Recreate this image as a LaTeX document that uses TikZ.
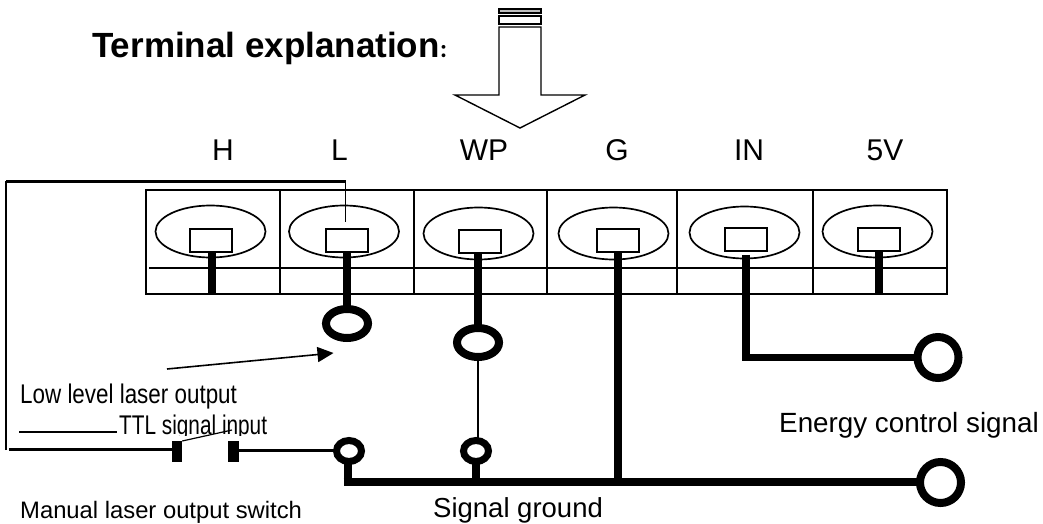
\documentclass[tikz,border=0pt]{standalone}
\usepackage{fontspec}
\setmainfont{Liberation Sans}
\newfontfamily\cjkfont{Noto Sans CJK SC}
\usetikzlibrary{shapes.geometric,arrows.meta,calc}
\tikzset{
  x=1pt,y=-1pt,
  cell/.style={draw,line width=1.7pt,ellipse,minimum width=110pt,minimum height=52pt,inner sep=0pt,outer sep=0pt},
  pad/.style={draw,line width=2pt,rectangle,minimum width=42pt,minimum height=22.5pt,inner sep=0pt,outer sep=0pt},
  bigring/.style={draw,line width=8pt,circle,minimum size=41pt,inner sep=0pt,outer sep=0pt},
  midring/.style={draw,line width=8pt,ellipse,minimum width=42pt,minimum height=29pt,inner sep=0pt,outer sep=0pt},
  smallring/.style={draw,line width=7pt,ellipse,minimum width=25pt,minimum height=21pt,inner sep=0pt,outer sep=0pt},
  post/.style={draw=none,fill=black,rectangle,minimum width=10.5pt,minimum height=21pt,inner sep=0pt,outer sep=0pt},
  thick wire/.style={line width=8pt},
  wire/.style={line width=3pt},
  thin wire/.style={line width=1.6pt},
  divider/.style={line width=2pt},
  term/.style={font=\fontsize{30}{34}\selectfont,inner sep=0pt,anchor=base},
  lbl/.style={inner sep=0pt,anchor=base west},
}
\begin{document}
\begin{tikzpicture}
\useasboundingbox (0,0) rectangle (1043,524);
\fill[white] (0,0) rectangle (1043,524);

% terminal block
\node[draw,line width=1.7pt,rectangle,anchor=north west,minimum width=801pt,minimum height=104pt,inner sep=0pt,outer sep=0pt] (block) at (146,190) {};
\coordinate (d1) at (280,190); \coordinate (d2) at (413.5,190); \coordinate (d3) at (547,190);
\coordinate (d4) at (677,190); \coordinate (d5) at (813,190);
\foreach \d in {d1,d2,d3,d4,d5} \draw[divider] (\d) -- (\d |- block.south);
\coordinate (barL) at (149,268);
\draw[divider] (barL) -- (barL -| block.east);

\node[cell] (eH)  at (210.5,231.5) {};
\node[cell] (eL)  at (344,231.5) {};
\node[cell] (eWP) at (478.5,233.5) {};
\node[cell] (eG)  at (613.5,233.5) {};
\node[cell] (eIN) at (744.5,232.5) {};
\node[cell] (e5V) at (877.5,231.5) {};
\node[pad] (pH)  at (210.5,240.5) {};
\node[pad] (pL)  at (346.5,240.5) {};
\node[pad] (pWP) at (480,241.5) {};
\node[pad] (pG)  at (618,240.5) {};
\node[pad] (pIN) at (745.5,239.5) {};
\node[pad] (p5V) at (878.5,239.5) {};

% rings
\node[midring] (rL) at (347,323.5) {};
\node[midring] (rWP) at (478,342.5) {};
\node[smallring] (rS1) at (349,451) {};
\node[smallring] (rS2) at (476,451) {};
\node[bigring] (rE) at (938,357.5) {};
\node[bigring] (rG) at (940.5,482.5) {};

% stems
\draw[thick wire] ([xshift=1.5pt]pH.south) -- ([xshift=1.5pt]pH.south |- block.south);
\draw[thick wire] (pL.south -| rL.north) -- (rL.north);
\draw[thick wire] (pWP.south -| rWP.north) -- (rWP.north);
\draw[thick wire] (p5V.south) -- (p5V.south |- block.south);
\coordinate (busL) at (347.5,482);
\draw[thick wire] (pG.south) -- (pG.south |- busL);
\draw[thick wire] (busL |- rS1.south) -- (busL);
\draw[thick wire] ([xshift=-4pt]busL) -- (busL -| rG.west);
\draw[thick wire] (rS2.south) -- (rS2.south |- busL);
\draw[line width=8pt] ([shift={(.5pt,-4pt)}]pIN.south) -- ([xshift=.5pt,yshift=-3pt]pIN.south |- rE.west);
\draw[line width=7pt] ([xshift=-3.5pt]pIN.south |- rE.west) -- (rE.west);

% WP to small ring
\draw[thin wire] (rWP.south) -- (rWP.south |- rS2.north);

% switch
\node[post] (s1) at (177,451.5) {};
\node[post] (s2) at (233.5,451.5) {};
\draw[wire] ([yshift=1pt]rS1.west -| s2.east) -- ([yshift=1pt]rS1.west);
\coordinate (swL) at (9,449);
\draw[wire] (swL) -- (swL -| s1.west);
\draw[line width=1.2pt] (s1.north east) -- (232,430);

% long wire to L
\coordinate (cornerTL) at (6,181);
\coordinate (cornerBL) at (6,450);
\coordinate (cornerTR) at (345.5,181);
\coordinate (pinL) at (345.5,222);
\draw[thin wire] (cornerBL) -- (cornerTL);
\draw[wire] (cornerTL) -- (cornerTR);
\draw[thin wire] (cornerTR) -- (pinL);

% pointer arrow
\coordinate (ptrA) at (167,369);
\coordinate (ptrB) at (333.5,353);
\draw[line width=1.6pt,-{Triangle[length=16pt,width=15pt]}] (ptrA) -- (ptrB);

% big arrow
\coordinate (a1) at (499,27);
\draw[line width=1.4pt] (a1) -- (499,95) -- (455,95) -- (520,128) -- (585,95) -- (541,95) -- (541,27) -- cycle;
\draw[line width=1.4pt] (499,16) rectangle (541,24);
\draw[line width=1.4pt,fill=black!25] (499,9) rectangle (541,13);

% labels
\node[lbl,font=\bfseries\fontsize{35}{40}\selectfont] (title) at (92,58) {Terminal explanation{\cjkfont\fontsize{18}{20}\selectfont ：}};
\node[term] (tH) at (223,160) {H};
\node[term] (tL) at (339.5,160) {L};
\node[term] (tWP) at (484,160) {WP};
\node[term] (tG) at (617,160) {G};
\node[term] (tIN) at (749,160) {IN};
\node[term] (t5V) at (885,160) {5V};
\node[lbl,font=\fontsize{27}{30}\selectfont] (lLow) at (20,403) {\scalebox{.83}[1]{Low level laser output}};
\coordinate (ulA) at (19,432);
\coordinate (ulB) at (117,432);
\draw[line width=1.6pt] (ulA) -- (ulB);
\begin{scope}
\clip (110,405) rectangle (280,435.5);
\node[lbl,font=\fontsize{27}{30}\selectfont] (lTTL) at (119,434) {\scalebox{.77}[1]{TTL signal input}};
\end{scope}
\node[lbl,font=\fontsize{23.8}{28}\selectfont] (lMan) at (20,518) {Manual laser output switch};
\node[lbl,font=\fontsize{27.5}{32}\selectfont] (lSig) at (433,517) {Signal ground};
\node[lbl,font=\fontsize{27.8}{32}\selectfont] (lEn) at (779,432) {Energy control signal};
\end{tikzpicture}
\end{document}
